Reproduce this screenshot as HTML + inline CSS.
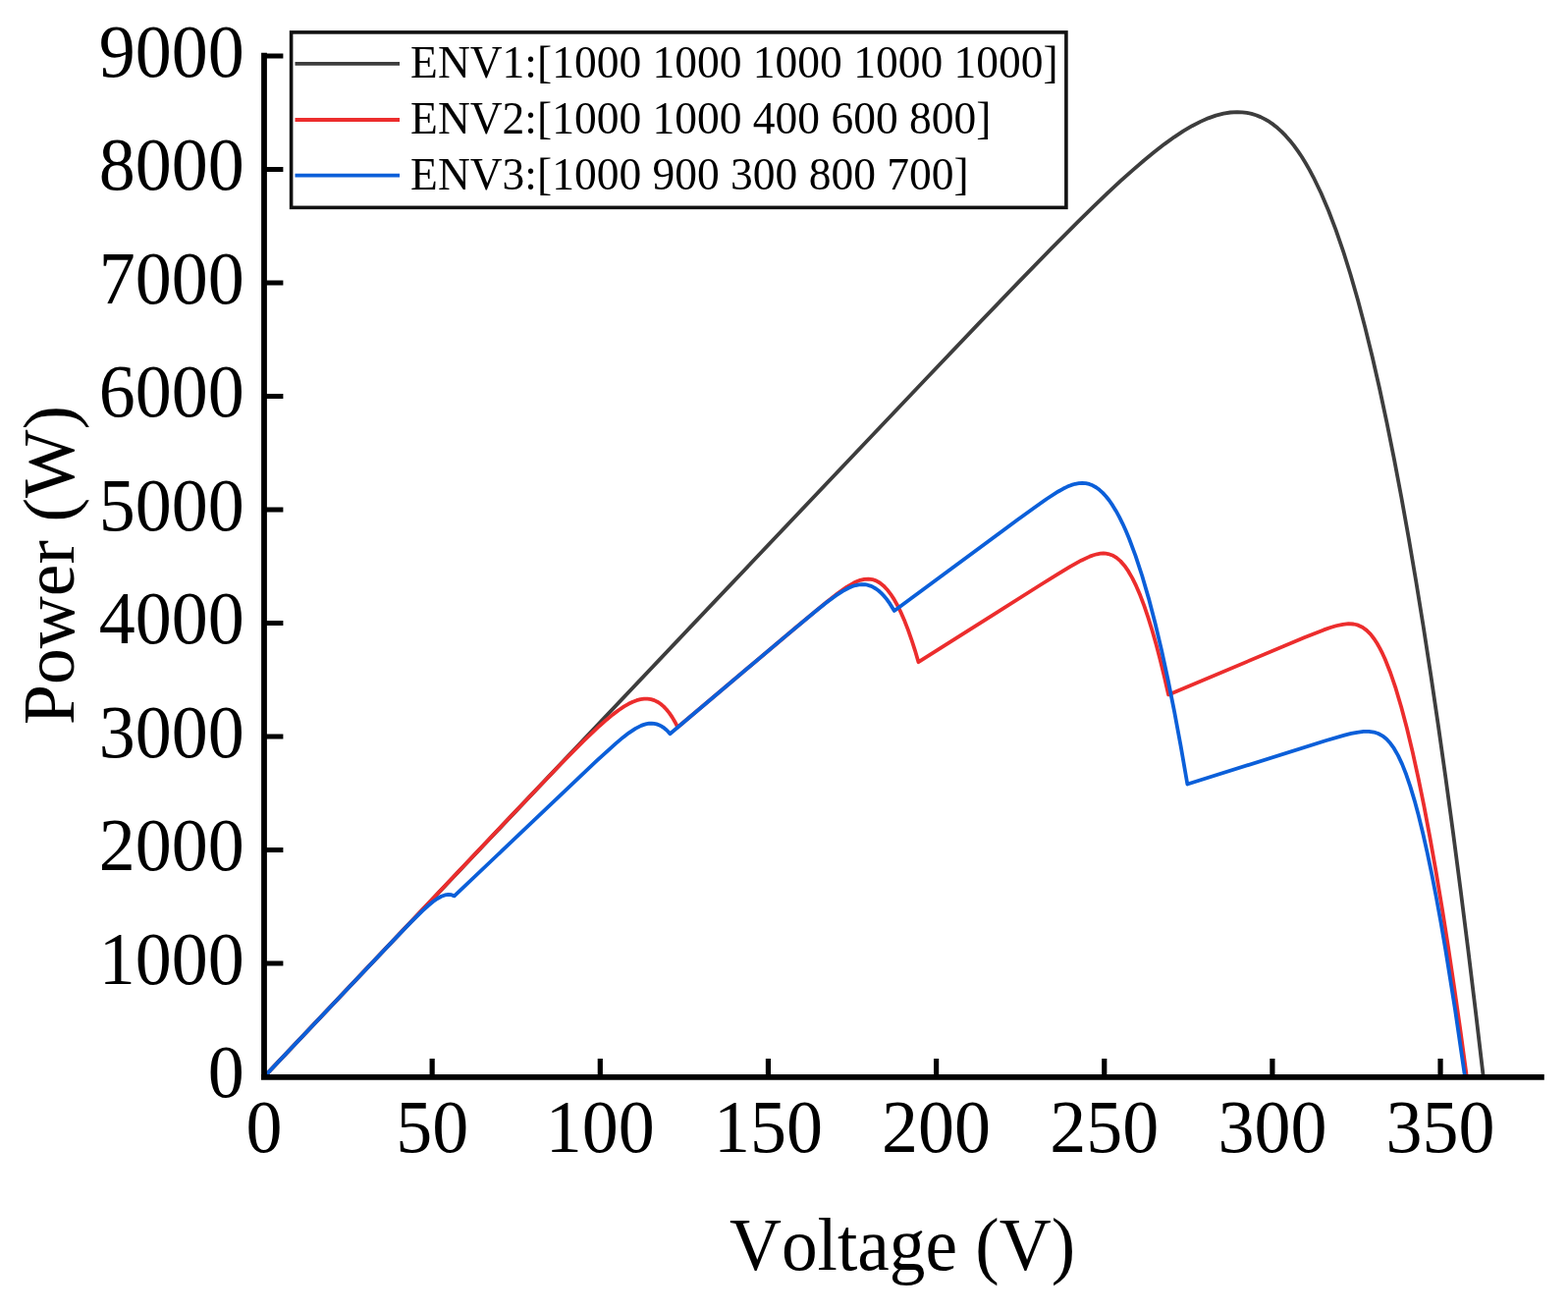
<!DOCTYPE html>
<html><head><meta charset="utf-8"><title>P-V curves</title>
<style>html,body{margin:0;padding:0;background:#fff;}svg{display:block;} text{font-kerning:none;}</style></head>
<body>
<svg width="1597" height="1336" viewBox="0 0 1597 1336" font-family="'Liberation Serif','Times New Roman',serif" fill="#000">
<rect width="1597" height="1336" fill="#fff"/>
<path d="M269.59,1095.87 L729.84,610.37 L943.11,385.71 L996.85,329.41 L1037.31,287.36 L1070.69,253.15 L1097.61,226.13 L1113.16,210.87 L1128.25,196.43 L1141.67,183.96 L1153.57,173.29 L1165.29,163.21 L1175.94,154.50 L1186.19,146.60 L1195.98,139.58 L1205.30,133.46 L1214.17,128.23 L1222.61,123.87 L1230.65,120.35 L1238.33,117.64 L1246.13,115.62 L1253.11,114.50 L1260.21,114.10 L1265.26,114.32 L1269.98,114.91 L1274.71,115.92 L1279.15,117.26 L1283.88,119.14 L1288.33,121.34 L1292.78,123.98 L1296.99,126.92 L1301.20,130.29 L1305.41,134.11 L1309.60,138.40 L1313.79,143.15 L1317.95,148.38 L1321.93,153.86 L1325.90,159.80 L1329.86,166.22 L1333.81,173.12 L1337.74,180.52 L1345.44,196.49 L1353.09,214.45 L1360.58,234.10 L1368.05,255.78 L1375.49,279.50 L1382.90,305.31 L1390.20,332.87 L1397.67,363.28 L1405.04,395.50 L1412.48,430.30 L1419.92,467.33 L1427.28,506.24 L1434.73,547.84 L1442.20,591.77 L1449.69,638.06 L1457.20,686.75 L1464.74,737.88 L1472.32,791.47 L1479.94,847.58 L1487.61,906.23 L1495.27,967.02 L1502.98,1030.43 L1510.76,1096.50" fill="none" stroke="#3d3d3d" stroke-width="3.8" stroke-linejoin="round" stroke-linecap="butt"/>
<path d="M269.00,1096.50 L513.30,838.56 L572.12,777.02 L593.78,755.14 L610.55,739.20 L617.69,732.91 L624.11,727.64 L629.97,723.23 L635.62,719.44 L640.12,716.83 L644.43,714.74 L648.45,713.20 L652.32,712.18 L656.02,711.65 L659.57,711.64 L663.07,712.14 L666.39,713.15 L669.60,714.66 L672.80,716.76 L675.87,719.35 L678.83,722.45 L681.75,726.12 L684.65,730.37 L687.50,735.23 L690.26,740.57 L811.81,637.98 L842.04,612.88 L853.47,603.96 L862.19,597.83 L869.58,593.52 L872.93,591.96 L876.00,590.83 L880.40,589.78 L884.48,589.53 L888.48,590.05 L892.30,591.36 L896.07,593.48 L899.76,596.42 L903.40,600.20 L906.99,604.80 L910.65,610.40 L914.22,616.78 L917.82,624.16 L921.36,632.34 L924.88,641.39 L928.45,651.51 L931.94,662.32 L935.45,674.18 L1059.04,596.01 L1077.37,584.56 L1089.72,577.10 L1101.27,570.67 L1109.98,566.63 L1113.77,565.26 L1117.32,564.28 L1120.64,563.69 L1123.92,563.49 L1126.32,563.62 L1128.67,564.01 L1132.94,565.44 L1137.11,567.88 L1141.21,571.38 L1145.24,575.96 L1149.24,581.68 L1153.24,588.61 L1157.20,596.66 L1161.24,606.08 L1165.25,616.64 L1169.34,628.62 L1173.41,641.75 L1177.56,656.34 L1181.68,672.03 L1185.85,689.09 L1190.03,707.40 L1328.89,649.03 L1348.25,641.40 L1355.06,639.02 L1360.92,637.26 L1367.69,635.77 L1373.34,635.21 L1378.52,635.50 L1381.02,636.00 L1383.28,636.69 L1387.70,638.79 L1391.91,641.86 L1395.98,645.96 L1399.86,650.99 L1402.61,655.25 L1405.35,660.10 L1408.05,665.46 L1410.70,671.30 L1416.13,685.00 L1421.63,701.23 L1427.27,720.24 L1432.91,741.53 L1438.68,765.62 L1444.51,792.16 L1450.41,821.18 L1456.45,853.14 L1462.56,887.66 L1468.68,924.35 L1474.91,963.79 L1481.18,1005.67 L1487.51,1049.93 L1493.86,1096.50" fill="none" stroke="#ec2d2d" stroke-width="3.8" stroke-linejoin="round" stroke-linecap="butt"/>
<path d="M269.13,1096.36 L400.17,958.07 L418.19,939.40 L430.15,927.61 L436.08,922.22 L441.18,918.05 L445.56,914.98 L449.55,912.77 L453.19,911.41 L456.58,910.89 L459.73,911.20 L462.72,912.36 L607.78,774.72 L627.43,756.84 L634.49,750.91 L640.48,746.31 L647.24,741.86 L653.11,738.90 L655.90,737.87 L658.55,737.16 L661.24,736.73 L663.77,736.63 L666.31,736.85 L668.72,737.37 L671.11,738.21 L673.44,739.36 L675.72,740.82 L678.02,742.65 L680.22,744.75 L682.41,747.20 L800.35,647.65 L830.85,622.21 L842.10,613.24 L850.99,606.66 L858.40,601.83 L864.72,598.49 L868.25,597.04 L871.51,596.03 L874.74,595.38 L877.68,595.13 L880.73,595.24 L883.53,595.71 L886.43,596.59 L889.22,597.82 L892.07,599.49 L894.82,601.52 L897.49,603.88 L900.21,606.71 L902.86,609.88 L905.55,613.54 L910.83,622.00 L1035.39,530.07 L1053.77,516.68 L1066.14,508.00 L1077.85,500.47 L1082.62,497.79 L1087.05,495.61 L1091.21,493.94 L1095.11,492.76 L1098.73,492.08 L1102.17,491.85 L1105.77,492.12 L1109.34,492.93 L1112.84,494.29 L1116.30,496.23 L1119.80,498.80 L1123.17,501.88 L1126.48,505.49 L1129.87,509.79 L1133.21,514.64 L1136.58,520.17 L1139.99,526.39 L1143.31,533.06 L1146.60,540.29 L1149.94,548.26 L1156.60,566.06 L1163.21,586.24 L1169.87,609.10 L1176.44,634.24 L1183.01,661.92 L1189.60,692.25 L1196.19,725.13 L1202.78,760.63 L1209.35,798.55 L1350.01,754.27 L1369.39,748.64 L1376.22,746.95 L1382.06,745.77 L1388.74,744.93 L1394.29,744.87 L1399.33,745.56 L1403.79,747.00 L1408.08,749.33 L1412.10,752.54 L1416.00,756.78 L1419.71,761.94 L1423.96,769.35 L1428.08,778.17 L1432.27,788.79 L1436.37,800.83 L1440.66,815.11 L1444.90,830.83 L1449.21,848.43 L1453.69,868.35 L1458.24,890.20 L1462.87,914.00 L1467.58,939.77 L1472.29,967.11 L1482.01,1027.87 L1492.04,1096.50" fill="none" stroke="#0b5fd9" stroke-width="3.8" stroke-linejoin="round" stroke-linecap="butt"/>

<path d="M269,53.8 V1099.8 M266,1096.8 H1572.8" fill="none" stroke="#000" stroke-width="5.8"/><path d="M269,981.00 H288.4 M269,865.50 H288.4 M269,750.00 H288.4 M269,634.50 H288.4 M269,519.00 H288.4 M269,403.50 H288.4 M269,288.00 H288.4 M269,172.50 H288.4 M269,57.00 H288.4 M440.15,1096.8 V1078 M611.30,1096.8 V1078 M782.45,1096.8 V1078 M953.60,1096.8 V1078 M1124.75,1096.8 V1078 M1295.90,1096.8 V1078 M1467.05,1096.8 V1078" fill="none" stroke="#000" stroke-width="5.2"/>
<g font-size="74">
<text transform="translate(248.8,1117.40) scale(1,1.03)" text-anchor="end">0</text>
<text transform="translate(248.8,1001.90) scale(1,1.03)" text-anchor="end">1000</text>
<text transform="translate(248.8,886.40) scale(1,1.03)" text-anchor="end">2000</text>
<text transform="translate(248.8,770.90) scale(1,1.03)" text-anchor="end">3000</text>
<text transform="translate(248.8,655.40) scale(1,1.03)" text-anchor="end">4000</text>
<text transform="translate(248.8,539.90) scale(1,1.03)" text-anchor="end">5000</text>
<text transform="translate(248.8,424.40) scale(1,1.03)" text-anchor="end">6000</text>
<text transform="translate(248.8,308.90) scale(1,1.03)" text-anchor="end">7000</text>
<text transform="translate(248.8,193.40) scale(1,1.03)" text-anchor="end">8000</text>
<text transform="translate(248.8,77.90) scale(1,1.03)" text-anchor="end">9000</text>
<text transform="translate(269.00,1173.2) scale(1,1.035)" text-anchor="middle">0</text>
<text transform="translate(440.15,1173.2) scale(1,1.035)" text-anchor="middle">50</text>
<text transform="translate(611.30,1173.2) scale(1,1.035)" text-anchor="middle">100</text>
<text transform="translate(782.45,1173.2) scale(1,1.035)" text-anchor="middle">150</text>
<text transform="translate(953.60,1173.2) scale(1,1.035)" text-anchor="middle">200</text>
<text transform="translate(1124.75,1173.2) scale(1,1.035)" text-anchor="middle">250</text>
<text transform="translate(1295.90,1173.2) scale(1,1.035)" text-anchor="middle">300</text>
<text transform="translate(1467.05,1173.2) scale(1,1.035)" text-anchor="middle">350</text>
</g>
<rect x="296.6" y="32.9" width="789.3" height="178.45" fill="#fff" stroke="#111" stroke-width="3.6"/>
<path d="M300.5,64.8 H407" stroke="#3d3d3d" stroke-width="3.8"/>
<path d="M300.5,122 H407" stroke="#ec2d2d" stroke-width="3.8"/>
<path d="M300.5,178.7 H407" stroke="#0b5fd9" stroke-width="3.8"/>
<g font-size="45.5">
<text transform="translate(418.1,78.9) scale(1,1.035)">ENV1:[1000 1000 1000 1000 1000]</text>
<text transform="translate(418.1,136.4) scale(1,1.035)">ENV2:[1000 1000 400 600 800]</text>
<text transform="translate(418.1,192.7) scale(1,1.035)">ENV3:[1000 900 300 800 700]</text>
</g>
<text transform="translate(743,1292.5) scale(1,1.03)" font-size="73.3">Voltage (V)</text>
<text transform="translate(74.6,738) rotate(-90) scale(1,1.02)" font-size="73.6">Power (W)</text>
</svg>
</body></html>
